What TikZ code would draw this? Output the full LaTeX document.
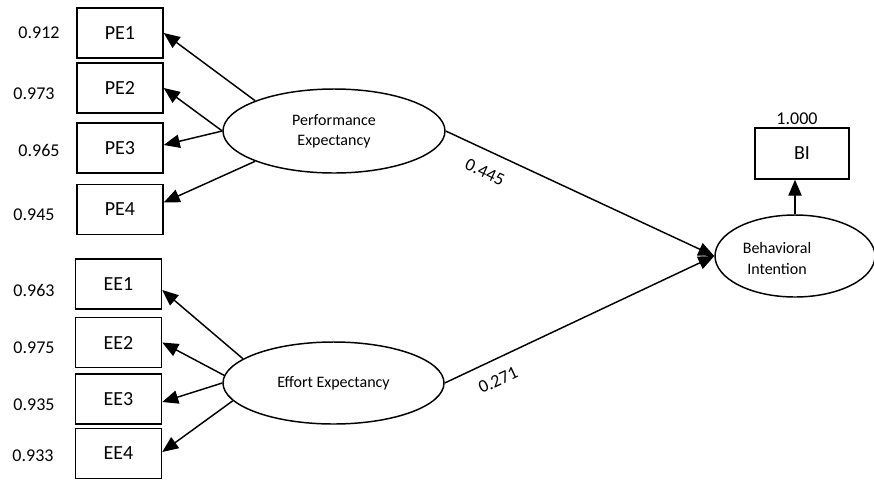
\documentclass[tikz,border=0pt]{standalone}
\usepackage{fontspec}
\setmainfont{Carlito}
\usetikzlibrary{arrows.meta,calc,shapes.geometric}
\begin{document}
\begin{tikzpicture}[x=0.75pt,y=-0.75pt,
  box/.style={draw,line width=1.1pt,minimum width=64.5pt,minimum height=37.5pt,inner sep=0,font=\fontsize{15}{18}\selectfont},
  lat/.style={draw,ellipse,line width=1.1pt,inner sep=0,font=\fontsize{12}{15}\selectfont,align=center},
  val/.style={font=\fontsize{13.5}{16}\selectfont,inner sep=0},
  arr/.style={line width=1.1pt,-{Triangle[length=12pt,width=10pt]}},
  con/.style={line width=1.1pt}]
\useasboundingbox (0,0) rectangle (874,480);

% indicator boxes
\node[box] (pe1) at (120,33) {PE1};
\node[box] (pe2) at (120,88) {PE2};
\node[box] (pe3) at (120,148) {PE3};
\node[box] (pe4) at (120,209.5) {PE4};
\node[box] (ee1) at (118.5,284) {EE1};
\node[box] (ee2) at (118.5,342.5) {EE2};
\node[box] (ee3) at (118.5,399) {EE3};
\node[box] (ee4) at (118.5,453.5) {EE4};
\node[box,minimum width=70.5pt,minimum height=38.25pt] (bib) at (802,153.5) {BI};

% values
\node[val] (v1) at (39,33) {0.912};
\node[val] (v2) at (34,94) {0.973};
\node[val] (v3) at (39,150) {0.965};
\node[val] (v4) at (34,215) {0.945};
\node[val] (v5) at (34,290) {0.963};
\node[val] (v6) at (34,348) {0.975};
\node[val] (v7) at (34,405) {0.935};
\node[val] (v8) at (33,456) {0.933};
\node[val] (v9) at (797,119) {1.000};

% latent variables
\node[lat,minimum width=166.5pt,minimum height=63pt] (pe) at (334,131) {Performance\\Expectancy};
\node[lat,minimum width=165.75pt,minimum height=61.5pt] (ee) at (333.5,383) {Effort Expectancy};
\node[lat,minimum width=120pt,minimum height=61.5pt] (bi) at (795,256) {};
\node[font=\fontsize{12}{15.5}\selectfont,align=center,inner sep=0] (bitext) at (777,258.5) {Behavioral\\Intention};

% start points on ellipses
\coordinate (s1) at (pe.159.8);
\coordinate (s4) at (pe.201);
\coordinate (t1) at (ee.165);
\coordinate (t2) at (ee.176);
\coordinate (t4) at (ee.190.7);

% loadings
\draw[arr] (s1) -- (pe1.east);
\draw[arr] (pe.west) -- (pe2.east);
\draw[arr] (pe.west) -- ($(pe3.east)+(0,-3)$);
\draw[arr] (s4) -- ($(pe4.east)+(0,-7)$);
\draw[arr] (t1) -- ($(ee1.east)+(0,6)$);
\draw[arr] (t2) -- (ee2.east);
\draw[arr] (ee.west) -- ($(ee3.east)+(0,3)$);
\draw[arr] (t4) -- ($(ee4.east)+(0,-1.5)$);

% paths
\draw[arr] (pe.east) -- (bi.west);
\draw[arr] (ee.east) -- (bi.west);
\draw[arr] (bi.north) -- (bi.north |- bib.south);

% path coefficients
\node[val,rotate=-25] (c1) at (485,172) {0.445};
\node[val,rotate=25] (c2) at (498,380) {0.271};
\end{tikzpicture}
\end{document}
